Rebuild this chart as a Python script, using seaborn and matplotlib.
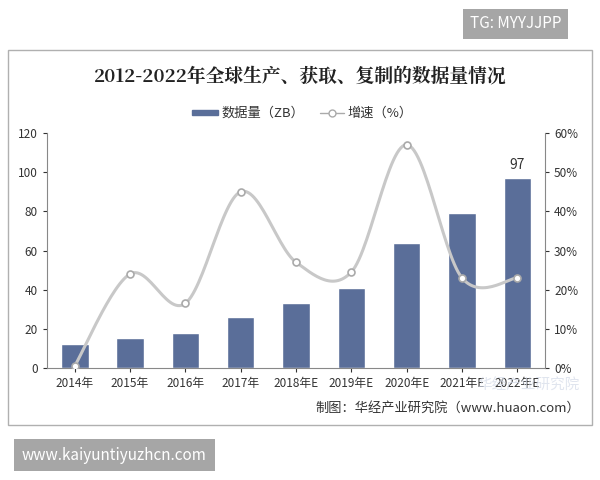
import numpy as np
import matplotlib.pyplot as plt
import seaborn as sns
from matplotlib.patches import Rectangle

sns.set_style("white")
plt.rcParams['font.family'] = ['Noto Sans CJK SC', 'DejaVu Sans']

# 数据
years = ['2014年', '2015年', '2016年', '2017年', '2018年E', '2019年E', '2020年E', '2021年E', '2022年E']
volume = [12.5, 15.5, 18, 26, 33, 41, 64, 79, 97]
growth = [0.5, 24, 16.5, 45, 27, 24.5, 57, 23, 23]

fig = plt.figure(figsize=(6, 4.8), dpi=100)
fig.patch.set_facecolor('white')

# 边框
fig.patches.append(Rectangle((8/600, 1-425/480), 584/600, 375/480, transform=fig.transFigure,
                             fill=False, edgecolor='#b0b0b0', lw=1))

ax = fig.add_axes([47/600, 1-368/480, 498/600, 235/480])
sns.barplot(x=years, y=volume, color='#5a6e99', width=0.5, ax=ax, saturation=1)
ax.set_ylim(0, 120)
ax.set_yticks(range(0, 121, 20))
ax.set_xlim(-0.5, len(years) - 0.5)
ax.text(8, 97 + 3, '97', ha='center', va='bottom', fontsize=10, color='#333333')
for s in ['top', 'right']:
    ax.spines[s].set_visible(False)
ax.spines['left'].set_color('#888888')
ax.spines['bottom'].set_color('#888888')
ax.tick_params(axis='both', labelsize=8.5, colors='#333333', length=3, left=True, bottom=True)

ax2 = ax.twinx()
x = np.arange(len(years))
g = np.array(growth, dtype=float)
# Catmull-Rom 平滑曲线
pts = np.column_stack([x, g])
pad = np.vstack([pts[0], pts, pts[-1]])
xs, ys = [], []
for i in range(1, len(pad) - 2):
    p0, p1, p2, p3 = pad[i-1], pad[i], pad[i+1], pad[i+2]
    for t in np.linspace(0, 1, 30):
        c = 0.5 * ((2*p1) + (-p0+p2)*t + (2*p0-5*p1+4*p2-p3)*t**2 + (-p0+3*p1-3*p2+p3)*t**3)
        xs.append(c[0]); ys.append(c[1])
ax2.plot(xs, ys, color='#c8c8c8', lw=2.2)
ax2.plot(x, g, 'o', ms=5, mfc='white', mec='#aaaaaa', mew=1.2)
ax2.set_ylim(0, 60)
ax2.set_yticks(range(0, 61, 10))
ax2.set_yticklabels([f'{v}%' for v in range(0, 61, 10)])
ax2.spines['top'].set_visible(False)
ax2.spines['left'].set_visible(False)
ax2.spines['bottom'].set_visible(False)
ax2.spines['right'].set_color('#888888')
ax2.tick_params(axis='y', labelsize=8.5, colors='#333333', length=3, right=True)

fig.text(0.5, 1-77/480, '2012-2022年全球生产、获取、复制的数据量情况', ha='center', va='center',
         fontsize=13.5, fontweight='bold', family=['Noto Serif CJK SC', 'Noto Sans CJK SC'], color='#222222')

# 图例
fig.patches.append(Rectangle((192/600, 1-115/480), 26/600, 5/480, transform=fig.transFigure, color='#5a6e99'))
fig.text(221/600, 1-113/480, '数据量（ZB）', fontsize=9.5, va='center', color='#333333')
fig.lines.append(plt.Line2D([320/600, 344/600], [1-113/480]*2, transform=fig.transFigure, color='#aaaaaa', lw=1))
fig.lines.append(plt.Line2D([332/600], [1-113/480], transform=fig.transFigure, marker='o', ms=5,
                            mfc='white', mec='#aaaaaa'))
fig.text(347/600, 1-113/480, '增速（%）', fontsize=9.5, va='center', color='#333333')

fig.text(580/600, 1-386/480, '华经产业研究院', fontsize=10.5, color='#d3dae8', alpha=0.7, ha='right', va='center')
fig.text(580/600, 1-408/480, '制图：华经产业研究院（www.huaon.com）', fontsize=9.5, ha='right', va='center', color='#333333')

# 水印框
fig.text(470/600, 1-24/480, 'TG: MYYJJPP', fontsize=11, color='white', va='center',
         bbox=dict(boxstyle='square,pad=0.45', fc='#a6a6a6', ec='none'))
fig.text(22/600, 1-455/480, 'www.kaiyuntiyuzhcn.com', fontsize=11, color='white', va='center',
         bbox=dict(boxstyle='square,pad=0.5', fc='#a6a6a6', ec='none'))

fig.savefig('out.png', dpi=100)
